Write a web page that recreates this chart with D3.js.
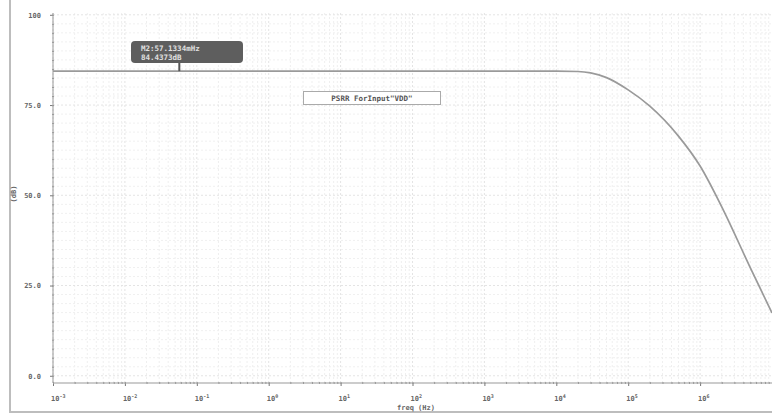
<!DOCTYPE html>
<html>
<head>
<meta charset="utf-8">
<script src="https://cdn.jsdelivr.net/npm/d3@7"></script>
<style>
  html, body { margin: 0; padding: 0; background: #fff; }
  svg { display: block; }
  text { font-family: "DejaVu Sans Mono", monospace; }
</style>
</head>
<body>
<svg id="chart" width="772" height="415"></svg>
<script>
// PSRR magnitude vs. frequency
const freqHz = [1e-3, 1e-2, 1e-1, 1, 10, 100, 1e3, 3e3, 1e4, 2e4, 3e4, 5e4, 1e5, 2e5, 5e5, 1e6, 2e6, 5e6, 1e7];
const psrrDb = [84.4, 84.4, 84.4, 84.4, 84.4, 84.4, 84.4, 84.4, 84.38, 84.3, 83.9, 82.6, 79.2, 74.7, 66.4, 58.1, 46.8, 29.9, 17.4];

const xTickExp = [-3, -2, -1, 0, 1, 2, 3, 4, 5, 6];
const yTickValues = [0, 25, 50, 75, 100];
const yTickLabels = ["0.0", "25.0", "50.0", "75.0", "100"];

const markerFreq = 57.1334e-3;
const markerDb = 84.4;
const markerLines = ["M2:57.1334mHz", "84.4373dB"];
const traceName = "PSRR ForInput\"VDD\"";
const xTitle = "freq (Hz)";
const yTitle = "(dB)";

const svg = d3.select("#chart");
const plotL = 53, plotR = 772, plotT = 13, plotB = 383;
const labelColor = "#666";

const x = d3.scaleLog().domain([1e-3, 1e7]).range([plotL, plotR]);
const y = d3.scaleLinear().domain([-2, 100.5]).range([plotB, plotT]);

// outer frame pieces
svg.append("line").attr("x1", 10).attr("x2", 10).attr("y1", 0).attr("y2", 413)
  .attr("stroke", "#bdbdbd").attr("stroke-width", 2);
svg.append("line").attr("x1", 9).attr("x2", 772).attr("y1", 412).attr("y2", 412)
  .attr("stroke", "#bdbdbd").attr("stroke-width", 2);

// grid
const grid = svg.append("g");
const minorFreqs = [];
for (let e = -3; e < 7; e++) for (let m = 1; m < 10; m++) minorFreqs.push(m * Math.pow(10, e));
const isDecade = d => Math.abs(Math.log10(d) - Math.round(Math.log10(d))) < 1e-9;
grid.selectAll("line.vx").data(minorFreqs).join("line")
  .attr("x1", d => x(d)).attr("x2", d => x(d)).attr("y1", plotT).attr("y2", plotB)
  .attr("stroke", d => isDecade(d) ? "#e4e4e4" : "#efefef")
  .attr("stroke-dasharray", "2,2").attr("stroke-width", 1);
const yMinor = d3.range(0, 101, 2.5);
grid.selectAll("line.hy").data(yMinor).join("line")
  .attr("x1", plotL).attr("x2", plotR).attr("y1", d => y(d)).attr("y2", d => y(d))
  .attr("stroke", d => d % 25 === 0 ? "#e4e4e4" : "#f0f0f0")
  .attr("stroke-dasharray", "2,2").attr("stroke-width", 1);

// y axis
const yAxis = d3.axisLeft(y).tickValues(yTickValues)
  .tickFormat((d, i) => yTickLabels[i]).tickSize(3).tickPadding(9);
const gy = svg.append("g").attr("transform", `translate(${plotL},0)`).call(yAxis);
gy.select(".domain").attr("stroke", "#999").attr("d", `M0,${plotT}V${plotB}`);
gy.selectAll(".tick line").attr("stroke", "#777");
gy.selectAll(".tick text").attr("fill", labelColor).attr("font-size", 7).attr("font-weight", "bold")
  .attr("font-family", "DejaVu Sans Mono, monospace");
const gyMinor = d3.axisLeft(y).tickValues(yMinor).tickSize(2).tickFormat("");
const gym = svg.append("g").attr("transform", `translate(${plotL + 1},0)`).call(gyMinor);
gym.select(".domain").remove();
gym.selectAll(".tick line").attr("stroke", "#999");

// x axis
const xAxis = d3.axisBottom(x).tickValues(xTickExp.map(e => Math.pow(10, e)))
  .tickSize(3).tickFormat("");
const gx = svg.append("g").attr("transform", `translate(0,${plotB})`).call(xAxis);
gx.select(".domain").attr("stroke", "#999").attr("d", `M${plotL},0H${plotR}`);
gx.selectAll(".tick line").attr("stroke", "#777");
const gxMinor = d3.axisBottom(x).tickValues(minorFreqs).tickSize(2).tickFormat("");
const gxm = svg.append("g").attr("transform", `translate(0,${plotB - 1})`).call(gxMinor);
gxm.select(".domain").remove();
gxm.selectAll(".tick line").attr("stroke", "#999");

const xl = svg.append("g").selectAll("text").data(xTickExp).join("text")
  .attr("x", d => x(Math.pow(10, d)) - 2).attr("y", 401)
  .attr("fill", labelColor).attr("font-size", 7).attr("font-weight", "bold");
xl.append("tspan").text("10");
xl.append("tspan").attr("dy", -3).attr("font-size", 5).text(d => d);

svg.append("text").attr("x", 397).attr("y", 410).attr("fill", labelColor)
  .attr("font-size", 7).attr("font-weight", "bold").text(xTitle);
svg.append("text").attr("transform", "translate(16,194) rotate(-90)")
  .attr("text-anchor", "middle").attr("fill", labelColor)
  .attr("font-size", 7).attr("font-weight", "bold").text(yTitle);

// trace
const data = freqHz.map((f, i) => ({ f, v: psrrDb[i] }));
svg.append("clipPath").attr("id", "plotClip").append("rect")
  .attr("x", plotL).attr("y", plotT).attr("width", plotR - plotL).attr("height", plotB - plotT);
svg.append("path").datum(data)
  .attr("clip-path", "url(#plotClip)")
  .attr("fill", "none").attr("stroke", "#9a9a9a").attr("stroke-width", 1.7)
  .attr("d", d3.line().x(d => x(d.f)).y(d => y(d.v)).curve(d3.curveMonotoneX));

// trace name box
const tb = svg.append("g");
tb.append("rect").attr("x", 303.5).attr("y", 91.5).attr("width", 137).attr("height", 13)
  .attr("fill", "#fff").attr("stroke", "#aaa");
tb.append("text").attr("x", 372).attr("y", 100.5).attr("text-anchor", "middle")
  .attr("fill", "#555").attr("font-size", 7.5).attr("font-weight", "bold").text(traceName);

// marker flag
const mx = x(markerFreq), my = y(markerDb);
svg.append("line").attr("x1", mx).attr("x2", mx).attr("y1", 62).attr("y2", my)
  .attr("stroke", "#555").attr("stroke-width", 2);
svg.append("rect").attr("x", 131).attr("y", 41).attr("width", 112).attr("height", 22)
  .attr("rx", 4).attr("fill", "#5e5e5e");
svg.append("text").attr("x", 141).attr("y", 51).attr("fill", "#e0e0e0")
  .attr("font-size", 7.5).attr("font-weight", "bold").text(markerLines[0]);
svg.append("text").attr("x", 141).attr("y", 60).attr("fill", "#e0e0e0")
  .attr("font-size", 7.5).attr("font-weight", "bold").text(markerLines[1]);
</script>
</body>
</html>
